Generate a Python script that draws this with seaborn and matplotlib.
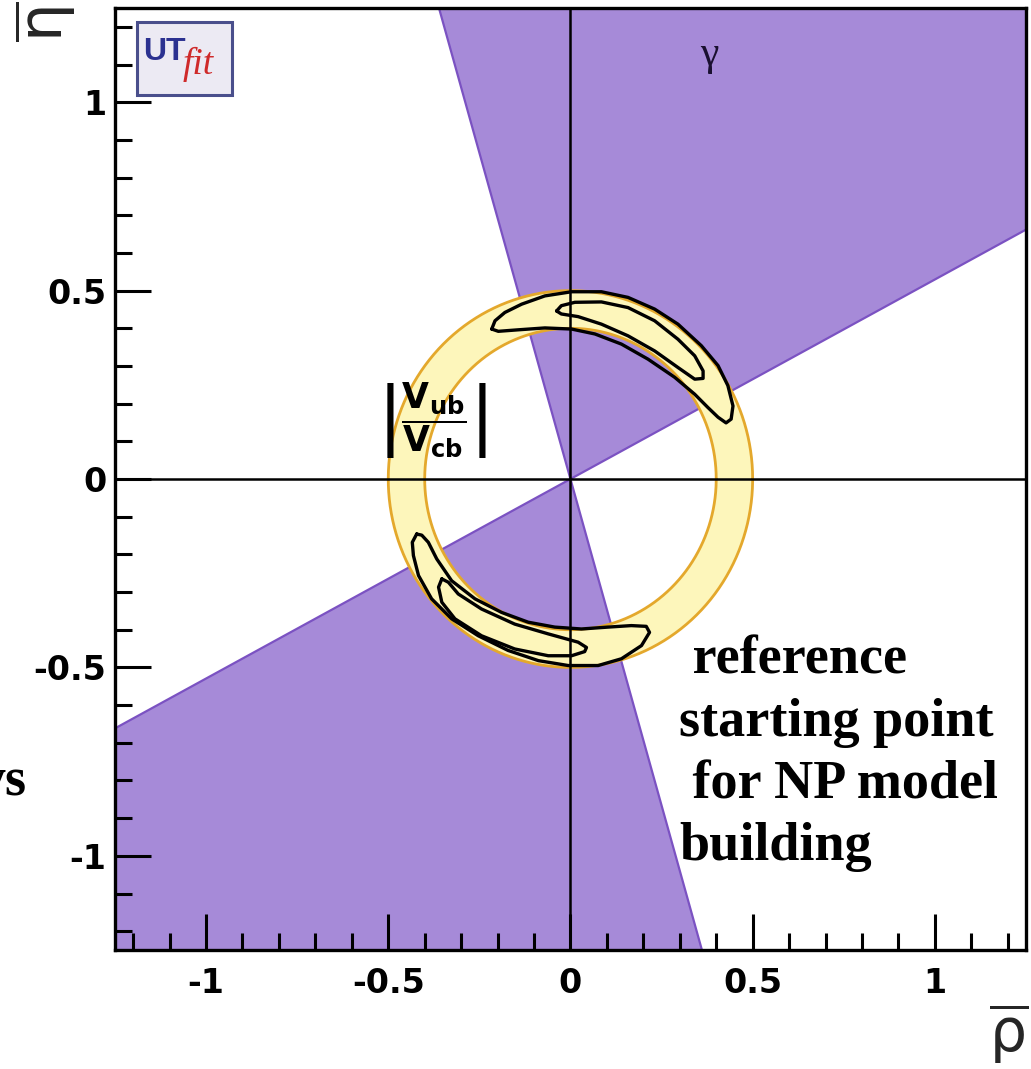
import numpy as np
import matplotlib
matplotlib.use("Agg")
import matplotlib.pyplot as plt
import seaborn as sns
from matplotlib.patches import Rectangle
from matplotlib.ticker import MultipleLocator, FixedLocator

# ---------------- data ----------------
gamma_edges_deg = [27.9, 106.1]          # allowed gamma wedge (upper), mirrored below
vub_radii = [0.40, 0.50]                 # |Vub/Vcb| annulus

up95_rho = [-0.216, -0.207, -0.180, -0.134, -0.070, 0.003, 0.085, 0.158, 0.231, 0.295, 0.359,
            0.405, 0.432, 0.446, 0.441, 0.427, 0.405, 0.377, 0.341, 0.286, 0.213, 0.140,
            0.067, 0.003, -0.070, -0.143, -0.198]
up95_eta = [0.398, 0.420, 0.442, 0.464, 0.486, 0.497, 0.497, 0.482, 0.451, 0.411, 0.354,
            0.301, 0.248, 0.194, 0.159, 0.149, 0.164, 0.190, 0.225, 0.270, 0.318, 0.358,
            0.385, 0.398, 0.401, 0.396, 0.392]

up68_rho = [-0.038, -0.025, 0.012, 0.085, 0.158, 0.231, 0.295, 0.341, 0.364, 0.364, 0.341,
            0.295, 0.231, 0.158, 0.085, 0.021, -0.025]
up68_eta = [0.446, 0.460, 0.469, 0.470, 0.455, 0.420, 0.371, 0.327, 0.287, 0.267, 0.265,
            0.296, 0.340, 0.380, 0.411, 0.431, 0.438]

lo95_rho = [-0.422, -0.434, -0.431, -0.417, -0.381, -0.326, -0.253, -0.171, -0.088, -0.006,
            0.076, 0.140, 0.195, 0.217, 0.208, 0.167, 0.103, 0.030, -0.043, -0.116, -0.189,
            -0.262, -0.326, -0.367, -0.390, -0.408]
lo95_eta = [-0.146, -0.168, -0.203, -0.256, -0.318, -0.371, -0.416, -0.455, -0.482, -0.495,
            -0.495, -0.477, -0.442, -0.407, -0.391, -0.389, -0.393, -0.398, -0.393, -0.380,
            -0.354, -0.318, -0.270, -0.212, -0.168, -0.149]

lo68_rho = [-0.353, -0.362, -0.353, -0.317, -0.244, -0.153, -0.061, 0.003, 0.039, 0.044,
            0.021, -0.061, -0.153, -0.244, -0.308, -0.335]
lo68_eta = [-0.265, -0.287, -0.327, -0.371, -0.416, -0.451, -0.469, -0.469, -0.458, -0.447,
            -0.433, -0.411, -0.385, -0.345, -0.305, -0.274]

major_ticks = [-1.0, -0.5, 0.0, 0.5, 1.0]
major_labels = ["-1", "-0.5", "0", "0.5", "1"]
text_lines = [" reference", "starting point", " for NP model", "building"]

# ---------------- style ----------------
sns.set_theme(style="white")
plt.rcParams["font.family"] = ["DejaVu Sans"]
plt.rcParams["mathtext.fontset"] = "dejavusans"

PURPLE = "#a68ad8"
PURPLE_EDGE = "#7b52c2"
YELLOW = "#fdf6bb"
ORANGE = "#e4a82c"

fig = plt.figure(figsize=(10.31, 10.69), dpi=100)
ax = fig.add_axes([0.1115, 0.1113, 0.8836, 0.8812])
ax.set_xlim(-1.25, 1.25)
ax.set_ylim(-1.25, 1.25)

# gamma wedges
R = 5.0
for off in (0.0, 180.0):
    a = np.deg2rad(np.linspace(gamma_edges_deg[0] + off, gamma_edges_deg[1] + off, 50))
    px = np.concatenate([[0.0], R * np.cos(a)])
    py = np.concatenate([[0.0], R * np.sin(a)])
    ax.fill(px, py, color=PURPLE, lw=0, zorder=1)
for g in gamma_edges_deg:
    a = np.deg2rad(g)
    sns.lineplot(x=[-R * np.cos(a), R * np.cos(a)], y=[-R * np.sin(a), R * np.sin(a)],
                 sort=False, estimator=None, color=PURPLE_EDGE, lw=1.6, ax=ax, zorder=1.5)

# |Vub/Vcb| annulus
t = np.linspace(0, 2 * np.pi, 500)
r_in, r_out = vub_radii
ax.fill(np.concatenate([r_out * np.cos(t), r_in * np.cos(t[::-1])]),
        np.concatenate([r_out * np.sin(t), r_in * np.sin(t[::-1])]),
        color=YELLOW, lw=0, zorder=2)
for r in vub_radii:
    sns.lineplot(x=r * np.cos(t), y=r * np.sin(t), sort=False, estimator=None,
                 color=ORANGE, lw=2.0, ax=ax, zorder=2.5)

# zero axes
ax.axhline(0, color="black", lw=1.8, zorder=3)
ax.axvline(0, color="black", lw=1.8, zorder=3)

# fit contours
for xs, ys in [(up95_rho, up95_eta), (up68_rho, up68_eta),
               (lo95_rho, lo95_eta), (lo68_rho, lo68_eta)]:
    xx = list(xs) + [xs[0]]
    yy = list(ys) + [ys[0]]
    sns.lineplot(x=xx, y=yy, sort=False, estimator=None, color="black", lw=2.4,
                 ax=ax, zorder=4, solid_joinstyle="round")

# ticks & spines
ax.xaxis.set_major_locator(FixedLocator(major_ticks))
ax.yaxis.set_major_locator(FixedLocator(major_ticks))
ax.set_xticklabels(major_labels)
ax.set_yticklabels(major_labels)
ax.xaxis.set_minor_locator(MultipleLocator(0.1))
ax.yaxis.set_minor_locator(MultipleLocator(0.1))
ax.tick_params(which="major", direction="in", length=26, width=2.2, color="black",
               bottom=True, left=True, top=False, right=False, labelsize=24)
ax.tick_params(which="minor", direction="in", length=12, width=2.2, color="black",
               bottom=True, left=True, top=False, right=False)
ax.tick_params(axis="x", which="major", pad=12)
ax.tick_params(axis="y", which="major", pad=6)
ax.xaxis.set_zorder(6)
ax.yaxis.set_zorder(6)
for lab in ax.get_xticklabels() + ax.get_yticklabels():
    lab.set_fontweight("bold")
    lab.set_color("black")
for s in ax.spines.values():
    s.set_linewidth(2.4)
    s.set_color("black")
    s.set_zorder(7)
ax.set_xlabel("")
ax.set_ylabel("")

# labels
ax.text(0.381, 1.125, "γ", family="Liberation Serif", fontsize=30, ha="center",
        va="center", color="#1a1030", zorder=5)
ax.text(-0.381, 0.154, r"$\left|\dfrac{\mathbf{V}_{\mathbf{ub}}}{\mathbf{V}_{\mathbf{cb}}}\right|$",
        fontsize=25, ha="center", va="center", color="black", zorder=5)

fig.text(0.997, 0.003, r"$\overline{\mathrm{\rho}}$", fontsize=42, ha="right", va="bottom")
fig.text(0.012, 0.999, r"$\overline{\mathrm{\eta}}$", fontsize=44, ha="left", va="top",
         rotation=90)

# annotation text (slide)
serif = ["Liberation Serif", "DejaVu Serif"]
ys_base = [-0.517, -0.682, -0.847, -1.011]
for line, yb in zip(text_lines, ys_base):
    ax.text(0.299, yb, line, family=serif, fontweight="bold", fontsize=39,
            ha="left", va="baseline", color="black", zorder=5)
fig.text(0.0262, 0.2563, "ys", family=serif, fontweight="bold", fontsize=39,
         ha="right", va="baseline", color="black")

# UTfit logo
fig.patches.append(Rectangle((0.1329, 0.9111), 0.0921, 0.0683, transform=fig.transFigure,
                             facecolor="#eceaf3", edgecolor="#4a4f8c", lw=2.2, zorder=7))
fig.text(0.1385, 0.9515, "UT", family=["Liberation Sans", "DejaVu Sans"], fontsize=23,
         fontweight="bold", color="#2b3190", ha="left", va="center", zorder=8)
fig.text(0.1770, 0.9395, "fit", family=serif, style="italic", fontsize=27, color="#cf2a2a",
         ha="left", va="center", zorder=8)

fig.savefig("out.png", dpi=100)
